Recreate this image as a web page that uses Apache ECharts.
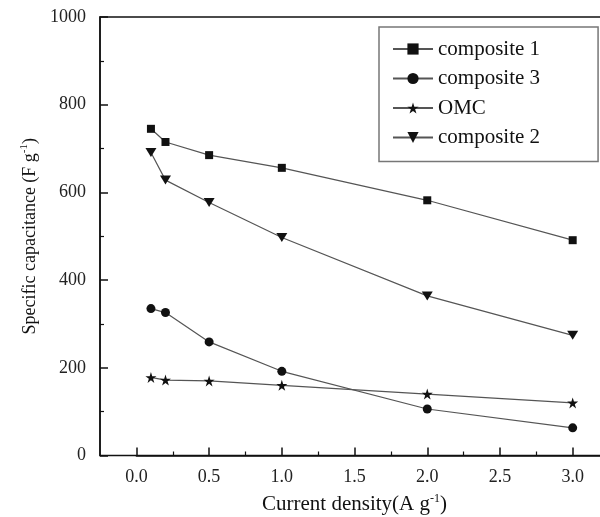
<!DOCTYPE html>
<html>
<head>
<meta charset="utf-8">
<script src="https://cdn.jsdelivr.net/npm/echarts@6/dist/echarts.min.js"></script>
<style>
  html, body { margin: 0; padding: 0; background: #fff; }
  #chart { width: 600px; height: 517px; }
</style>
</head>
<body>
<div id="chart"></div>
<script>
// current density (A g-1)
var density = [0.1, 0.2, 0.5, 1.0, 2.0, 3.0];
var composite1 = [745, 715, 685, 656, 582, 491];
var composite3 = [335, 326, 259, 192, 106, 63];
var omc = [178, 172, 170, 160, 140, 120];
var composite2 = [691, 628, 577, 497, 364, 274];
var seriesNames = ["composite 1", "composite 3", "OMC", "composite 2"];

var FONT = "'Liberation Serif', 'Times New Roman', serif";
var STAR = "path://M50,0L61.17,34.63L97.55,34.55L68.07,55.87L79.39,90.45L50,69L20.61,90.45L31.93,55.87L2.45,34.55L38.83,34.63Z";
var DOWN = "path://M0,0L10,0L5,8.66Z";

function pairs(ys) {
  return density.map(function (x, i) { return [x, ys[i]]; });
}

function makeSeries(name, ys, symbol, size) {
  return {
    name: name,
    type: "line",
    xAxisIndex: 1,
    yAxisIndex: 1,
    data: pairs(ys),
    symbol: symbol,
    symbolSize: size,
    showAllSymbol: true,
    lineStyle: { color: "#555", width: 1.2 },
    itemStyle: { color: "#111" },
    emphasis: { disabled: true },
    animation: false
  };
}

var chart = echarts.init(document.getElementById("chart"));
chart.setOption({
  backgroundColor: "#fff",
  animation: false,
  textStyle: { fontFamily: FONT },
  grid: [
    // frame, x from -0.25 to 3.25 (right side runs off the picture)
    { left: 100, top: 17, width: 509, height: 438.5, outerBoundsMode: "none", containLabel: false,
      show: true, borderColor: "#111", borderWidth: 1.5, backgroundColor: "transparent" },
    // data grid, starts at x = 0 with the same scale
    { left: 136.4, top: 17, width: 509, height: 438.5, outerBoundsMode: "none", containLabel: false }
  ],
  xAxis: [
    {
      gridIndex: 0, type: "value", min: -0.25, max: 3.25,
      axisLine: { show: false, onZero: false }, axisTick: { show: false }, axisLabel: { show: false }, splitLine: { show: false },
      name: "{a|Current density(A g}{s|-1}{a|)}",
      nameLocation: "middle",
      nameGap: 37,
      nameTextStyle: {
        rich: {
          a: { fontFamily: FONT, fontSize: 21, color: "#111", lineHeight: 24 },
          s: { fontFamily: FONT, fontSize: 12, color: "#111", lineHeight: 12, verticalAlign: "top" }
        }
      }
    },
    {
      gridIndex: 1, type: "value", min: 0, max: 3.5, interval: 0.5,
      axisLine: { show: true, onZero: false, lineStyle: { color: "#111", width: 1.5 } },
      axisTick: { show: true, inside: true, length: 8, lineStyle: { color: "#111", width: 1.5 } },
      minorTick: { show: true, splitNumber: 2, length: 4, lineStyle: { color: "#111", width: 1.2 } },
      splitLine: { show: false },
      axisLabel: {
        margin: 13, fontFamily: FONT, fontSize: 18, color: "#222",
        formatter: function (v) { return v > 3.01 ? "" : v.toFixed(1); }
      }
    }
  ],
  yAxis: [
    {
      gridIndex: 0, type: "value", min: 0, max: 1000, interval: 200,
      axisLine: { show: true, onZero: false, lineStyle: { color: "#111", width: 1.5 } },
      axisTick: { show: true, inside: true, length: 8, lineStyle: { color: "#111", width: 1.5 } },
      minorTick: { show: true, splitNumber: 2, length: 4, lineStyle: { color: "#111", width: 1.2 } },
      splitLine: { show: false },
      axisLabel: { margin: 14, fontFamily: FONT, fontSize: 18, color: "#222", formatter: function (v) { return String(v); } },
      name: "{a|Specific capacitance (F g}{s|-1}{a|)}",
      nameLocation: "middle",
      nameGap: 57,
      nameRotate: 90,
      nameTextStyle: {
        rich: {
          a: { fontFamily: FONT, fontSize: 18, color: "#111", lineHeight: 22 },
          s: { fontFamily: FONT, fontSize: 11, color: "#111", lineHeight: 11, verticalAlign: "top" }
        }
      }
    },
    { gridIndex: 1, type: "value", min: 0, max: 1000, show: false, axisLine: { onZero: false } }
  ],
  legend: {
    orient: "vertical",
    left: 379,
    top: 27,
    padding: [11, 58, 13, 13],
    itemWidth: 40,
    itemHeight: 14,
    itemGap: 7.5,
    borderColor: "#777",
    borderWidth: 1.5,
    backgroundColor: "#fff",
    selectedMode: false,
    data: seriesNames,
    textStyle: { fontFamily: FONT, fontSize: 21, color: "#111", lineHeight: 22 }
  },
  series: [
    makeSeries("composite 1", composite1, "rect", 8),
    makeSeries("composite 3", composite3, "circle", 9),
    makeSeries("OMC", omc, STAR, 11),
    makeSeries("composite 2", composite2, DOWN, [11, 9])
  ]
});
window.addEventListener("resize", function () { chart.resize(); });
</script>
</body>
</html>
